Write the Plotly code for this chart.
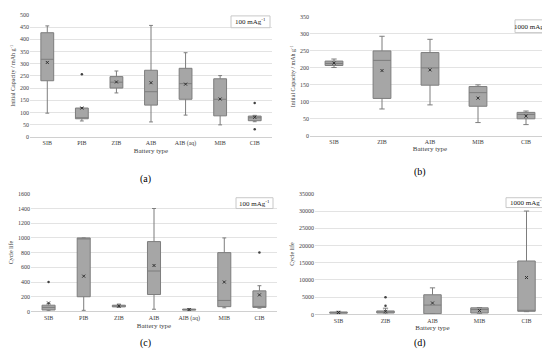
import plotly.graph_objects as go

# ---------------- data ----------------
cats_a = ["SIB", "PIB", "ZIB", "AIB", "AIB (aq)", "MIB", "CIB"]
a_low = [97, 65, 180, 61, 89, 49, 62]
a_q1 = [230, 74, 200, 130, 154, 86, 66]
a_med = [318, 78, 224, 185, 218, 154, 78]
a_q3 = [427, 118, 247, 273, 281, 238, 85]
a_high = [455, 120, 270, 457, 345, 251, 88]
a_mean = [305, 118, 225, 222, 216, 155, 80]
a_out_x = ["PIB", "CIB", "CIB"]
a_out_y = [257, 139, 31]

cats_b = ["SIB", "ZIB", "AIB", "MIB", "CIB"]
b_low = [201, 79, 91, 39, 33]
b_q1 = [207, 110, 149, 87, 50]
b_med = [213, 222, 200, 127, 63]
b_q3 = [220, 250, 245, 145, 69]
b_high = [226, 293, 284, 150, 73]
b_mean = [214, 192, 194, 111, 58]

cats_c = ["SIB", "PIB", "ZIB", "AIB", "AIB (aq)", "MIB", "CIB"]
c_low = [10, 15, 55, 30, 10, 50, 45]
c_q1 = [20, 200, 62, 230, 18, 65, 55]
c_med = [55, 1000, 75, 550, 25, 150, 65]
c_q3 = [85, 1000, 85, 950, 32, 800, 280]
c_high = [110, 1000, 100, 1400, 40, 1000, 350]
c_mean = [115, 480, 75, 625, 25, 400, 225]
c_out_x = ["SIB", "CIB"]
c_out_y = [400, 800]

cats_d = ["SIB", "ZIB", "AIB", "MIB", "CIB"]
d_low = [200, 100, 100, 200, 800]
d_q1 = [350, 400, 200, 400, 900]
d_med = [500, 700, 2700, 1400, 1000]
d_q3 = [700, 1000, 5700, 1900, 15500]
d_high = [900, 1800, 7700, 2000, 30000]
d_mean = [550, 900, 3300, 1100, 10700]
d_out_x = ["ZIB", "ZIB"]
d_out_y = [5000, 2500]

rate_labels = ["100 mAg<sup>-1</sup>", "1000 mAg<sup>-1</sup>", "100 mAg<sup>-1</sup>", "1000 mAg<sup>-1</sup>"]
panel_labels = ["(a)", "(b)", "(c)", "(d)"]

# ---------------- style ----------------
W, H = 550, 349
FONT = "Liberation Serif"
BOX_FILL = "#a6a6a6"
BOX_LINE = "#7d7d7d"
GRID = "#e3e3e3"
TXT = "#404040"

fig = go.Figure()

panels = [
    (cats_a, a_low, a_q1, a_med, a_q3, a_high, a_mean, a_out_x, a_out_y),
    (cats_b, b_low, b_q1, b_med, b_q3, b_high, b_mean, [], []),
    (cats_c, c_low, c_q1, c_med, c_q3, c_high, c_mean, c_out_x, c_out_y),
    (cats_d, d_low, d_q1, d_med, d_q3, d_high, d_mean, d_out_x, d_out_y),
]

# pixel geometry: (x0, x1, y_bottom, y_top) in px from top-left
geom = [
    (22, 264, 128, 4),
    (302, 542, 127, 6),
    (23, 269, 305.7, 186),
    (307, 542, 308.7, 186),
]
yranges = [(0, 500, 50), (0, 350, 50), (0, 1600, 200), (0, 35000, 5000)]
ytitles = ["Initial Capacity / mAh g<sup>-1</sup>", "Initial Capacity / mAh g<sup>-1</sup>", "Cycle life", "Cycle life"]
legend_px = [(223, 262, 5, 17), (507, 539, 9, 22), (228, 265, 190, 201), (498, 540, 190, 200)]
plabel_px = [(137, 171), (412, 164), (137, 338), (412, 338)]

for i, (cats, lo, q1, med, q3, hi, mean, ox, oy) in enumerate(panels):
    n = i + 1
    xa = "x" if n == 1 else f"x{n}"
    ya = "y" if n == 1 else f"y{n}"
    fig.add_trace(go.Box(
        x=cats, q1=q1, median=med, q3=q3, lowerfence=lo, upperfence=hi,
        fillcolor=BOX_FILL, line=dict(color=BOX_LINE, width=1),
        whiskerwidth=0.3, boxpoints=False, showlegend=False,
        xaxis=xa, yaxis=ya,
    ))
    fig.add_trace(go.Scatter(
        x=cats, y=mean, mode="markers", showlegend=False,
        marker=dict(symbol="x-thin", size=3, line=dict(color="#303030", width=1)),
        xaxis=xa, yaxis=ya,
    ))
    if ox:
        fig.add_trace(go.Scatter(
            x=ox, y=oy, mode="markers", showlegend=False,
            marker=dict(symbol="circle", size=2.5, color="#404040"),
            xaxis=xa, yaxis=ya,
        ))
    x0, x1, yb, yt = geom[i]
    r0, r1, dt = yranges[i]
    sfx = "" if n == 1 else str(n)
    fig.layout["xaxis" + sfx] = dict(
        domain=[x0 / W, x1 / W], anchor=ya, type="category",
        categoryorder="array", categoryarray=cats,
        showgrid=False, showline=True, linecolor="#d0d0d0", linewidth=1,
        ticks="", tickfont=dict(family=FONT, size=6, color=TXT),
        title=dict(text="Battery type", font=dict(family=FONT, size=7, color=TXT), standoff=2),
        fixedrange=True,
    )
    fig.layout["yaxis" + sfx] = dict(
        domain=[1 - yb / H, 1 - yt / H], anchor=xa, range=[r0, r1],
        tickmode="linear", tick0=0, dtick=dt, tickformat="d",
        showgrid=True, gridcolor=GRID, gridwidth=1, zeroline=False,
        showline=False, ticks="", tickfont=dict(family=FONT, size=6, color=TXT),
        title=dict(text=ytitles[i], font=dict(family=FONT, size=6, color=TXT), standoff=3),
        fixedrange=True,
    )
    lx0, lx1, ly0, ly1 = legend_px[i]
    fig.add_shape(type="rect", xref="paper", yref="paper",
                  x0=lx0 / W, x1=lx1 / W, y0=1 - ly1 / H, y1=1 - ly0 / H,
                  line=dict(color="#c8c8c8", width=1), fillcolor="white")
    fig.add_annotation(xref="paper", yref="paper", x=(lx0 + lx1) / 2 / W, y=1 - (ly0 + ly1) / 2 / H,
                       text=rate_labels[i], showarrow=False, xanchor="center", yanchor="middle",
                       font=dict(family=FONT, size=7, color="#202020"))
    px, py = plabel_px[i]
    fig.add_annotation(xref="paper", yref="paper", x=px / W, y=1 - py / H,
                       text=panel_labels[i], showarrow=False, xanchor="center", yanchor="middle",
                       font=dict(family=FONT, size=10, color="#000000"))

fig.update_layout(
    width=W, height=H, margin=dict(l=0, r=0, t=0, b=0),
    paper_bgcolor="white", plot_bgcolor="white",
    boxgap=0.47, showlegend=False,
)

fig.write_html("out.html", config={"displayModeBar": False})
